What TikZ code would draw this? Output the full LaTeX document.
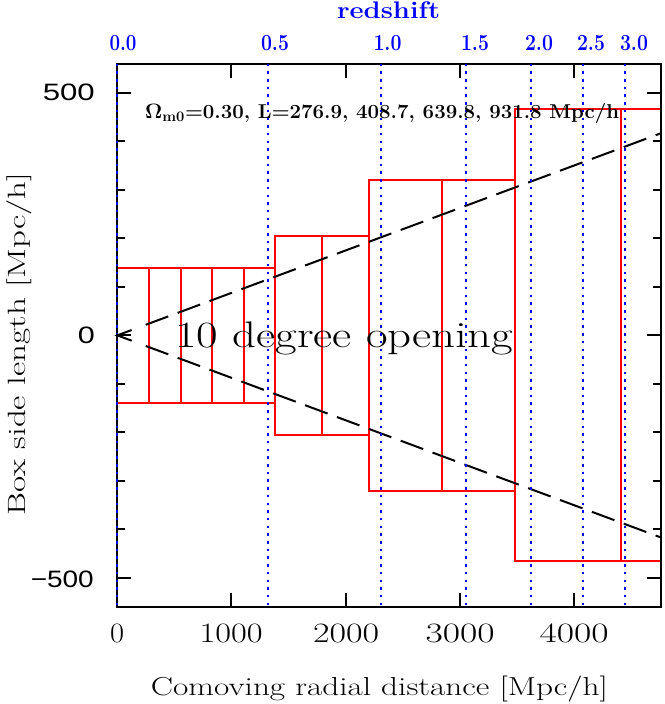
\documentclass[tikz,border=0pt]{standalone}
\usepackage[no-math]{fontspec}
\usepackage{graphicx}
\newfontfamily\axsans{Liberation Sans}
\definecolor{pred}{RGB}{255,0,0}
\definecolor{pblue}{RGB}{0,0,255}
\newcommand\wfit[2]{\resizebox{#1}{\height}{#2}}
\tikzset{
  axisline/.style={draw=black,line width=2pt},
  boxline/.style={draw=pred,line width=2pt},
  zline/.style={draw=pblue,line width=2pt,dash pattern=on 2.5pt off 5.2pt},
  wedge/.style={draw=black,line width=2pt,dash pattern=on 24pt off 10pt},
  zlabel/.style={anchor=base,text=pblue,font=\bfseries\fontsize{23}{23}\selectfont,inner sep=0pt},
  ylabel/.style={anchor=base east,font=\axsans\fontsize{23.7}{24}\selectfont,inner sep=0pt},
  xlabel/.style={anchor=base,font=\fontsize{28}{28}\selectfont,inner sep=0pt},
}
\begin{document}
\begin{tikzpicture}[x=1pt,y=1pt]
\fill[white] (0,0) rectangle (664,-704);
\path[use as bounding box] (0,0) rectangle (664,-704);

% ---------- data scope ----------
\begin{scope}[shift={(117.3pt,-335.35pt)}, x=0.1142pt, y=0.4853pt]
  % boxes
  \begin{scope}
    \clip (0,-560) rectangle (4757,560);
    \foreach \i in {0,...,4}
      \draw[boxline] ({276.9*\i},-138.45) rectangle ({276.9*(\i+1)},138.45);
    \foreach \i in {0,1}
      \draw[boxline] ({1384.5+408.7*\i},-204.35) rectangle ({1384.5+408.7*(\i+1)},204.35);
    \foreach \i in {0,1}
      \draw[boxline] ({2201.9+639.8*\i},-319.9) rectangle ({2201.9+639.8*(\i+1)},319.9);
    \foreach \i in {0,1}
      \draw[boxline] ({3481.5+931.8*\i},-465.9) rectangle ({3481.5+931.8*(\i+1)},465.9);
    % opening wedge
    \coordinate (wu0) at (249,21.8);
    \coordinate (wu1) at (4757,416.2);
    \coordinate (wl0) at (249,-21.8);
    \coordinate (wl1) at (4757,-416.2);
    \draw[wedge] (wu0) -- (wu1);
    \draw[wedge] (wl0) -- (wl1);
  \end{scope}
  % frame
  \draw[axisline] (0,-560) rectangle (4757,560);
  % x ticks
  \foreach \v in {1000,2000,3000,4000} {
    \draw[axisline] (\v,-560) -- ++(0pt,14pt);
    \draw[axisline] (\v,560) -- ++(0pt,-14pt);
  }
  % y ticks
  \foreach \v in {-400,-300,-200,-100,100,200,300,400} {
    \draw[axisline] (0,\v) -- ++(8pt,0pt);
    \draw[axisline] (4757,\v) -- ++(-8pt,0pt);
  }
  \foreach \v in {-500,0,500} {
    \draw[axisline] (0,\v) -- ++(14pt,0pt);
    \draw[axisline] (4757,\v) -- ++(-14pt,0pt);
  }
\end{scope}

% ---------- redshift lines ----------
\foreach \x in {117.3,268.3,381,465.7,531.3,583.3,625.3}
  \draw[zline] (\x,-63.6) -- (\x,-607.1);

% arrow head at origin
\draw[line width=2pt,line join=miter] (131.7,-330) -- (117.3,-335.35) -- (131.7,-340.7);

% ---------- texts ----------
\node[anchor=base,text=pblue,font=\bfseries\fontsize{24}{24}\selectfont,inner sep=0pt] (zttl) at (388.5,-18.3) {\wfit{103pt}{redshift}};
\node[zlabel] (z00) at (123,-50) {\wfit{27pt}{0.0}};
\node[zlabel] (z05) at (275,-50) {\wfit{28pt}{0.5}};
\node[zlabel] (z10) at (387.5,-50) {\wfit{28pt}{1.0}};
\node[zlabel] (z15) at (475,-50) {\wfit{28pt}{1.5}};
\node[zlabel] (z20) at (539,-50) {\wfit{28pt}{2.0}};
\node[zlabel] (z25) at (591,-50) {\wfit{28pt}{2.5}};
\node[zlabel] (z30) at (634,-50) {\wfit{28pt}{3.0}};

\node[ylabel] (y500) at (95,-100.3) {\wfit{52pt}{500}};
\node[ylabel] (y0) at (95,-343.5) {\wfit{17pt}{0}};
\node[ylabel] (ym500) at (94,-587) {\wfit{63pt}{−500}};

\node[xlabel] (x0) at (117,-642.5) {\wfit{14pt}{0}};
\node[xlabel] (x1) at (231,-642.5) {\wfit{63pt}{1000}};
\node[xlabel] (x2) at (346,-642.5) {\wfit{66pt}{2000}};
\node[xlabel] (x3) at (460,-642.5) {\wfit{69pt}{3000}};
\node[xlabel] (x4) at (574,-642.5) {\wfit{69pt}{4000}};

\node[anchor=base,font=\fontsize{26}{26}\selectfont,inner sep=0pt] (xttl) at (379.5,-695) {\wfit{457pt}{Comoving radial distance [Mpc/h]}};
\node[anchor=base,rotate=90,font=\fontsize{25}{25}\selectfont,inner sep=0pt] (yttl) at (25.5,-344) {\wfit{342pt}{Box side length [Mpc/h]}};

\node[anchor=base west,font=\bfseries\fontsize{20}{20}\selectfont,inner sep=0pt] (note) at (145,-118) {\wfit{474pt}{$\mathbf{\Omega}_{\mathbf{m0}}$=0.30, L=276.9, 408.7, 639.8, 931.8 Mpc/h}};
\node[anchor=base west,font=\fontsize{37}{37}\selectfont,inner sep=0pt] (open) at (175,-347) {\wfit{338pt}{10 degree opening}};
\end{tikzpicture}
\end{document}
